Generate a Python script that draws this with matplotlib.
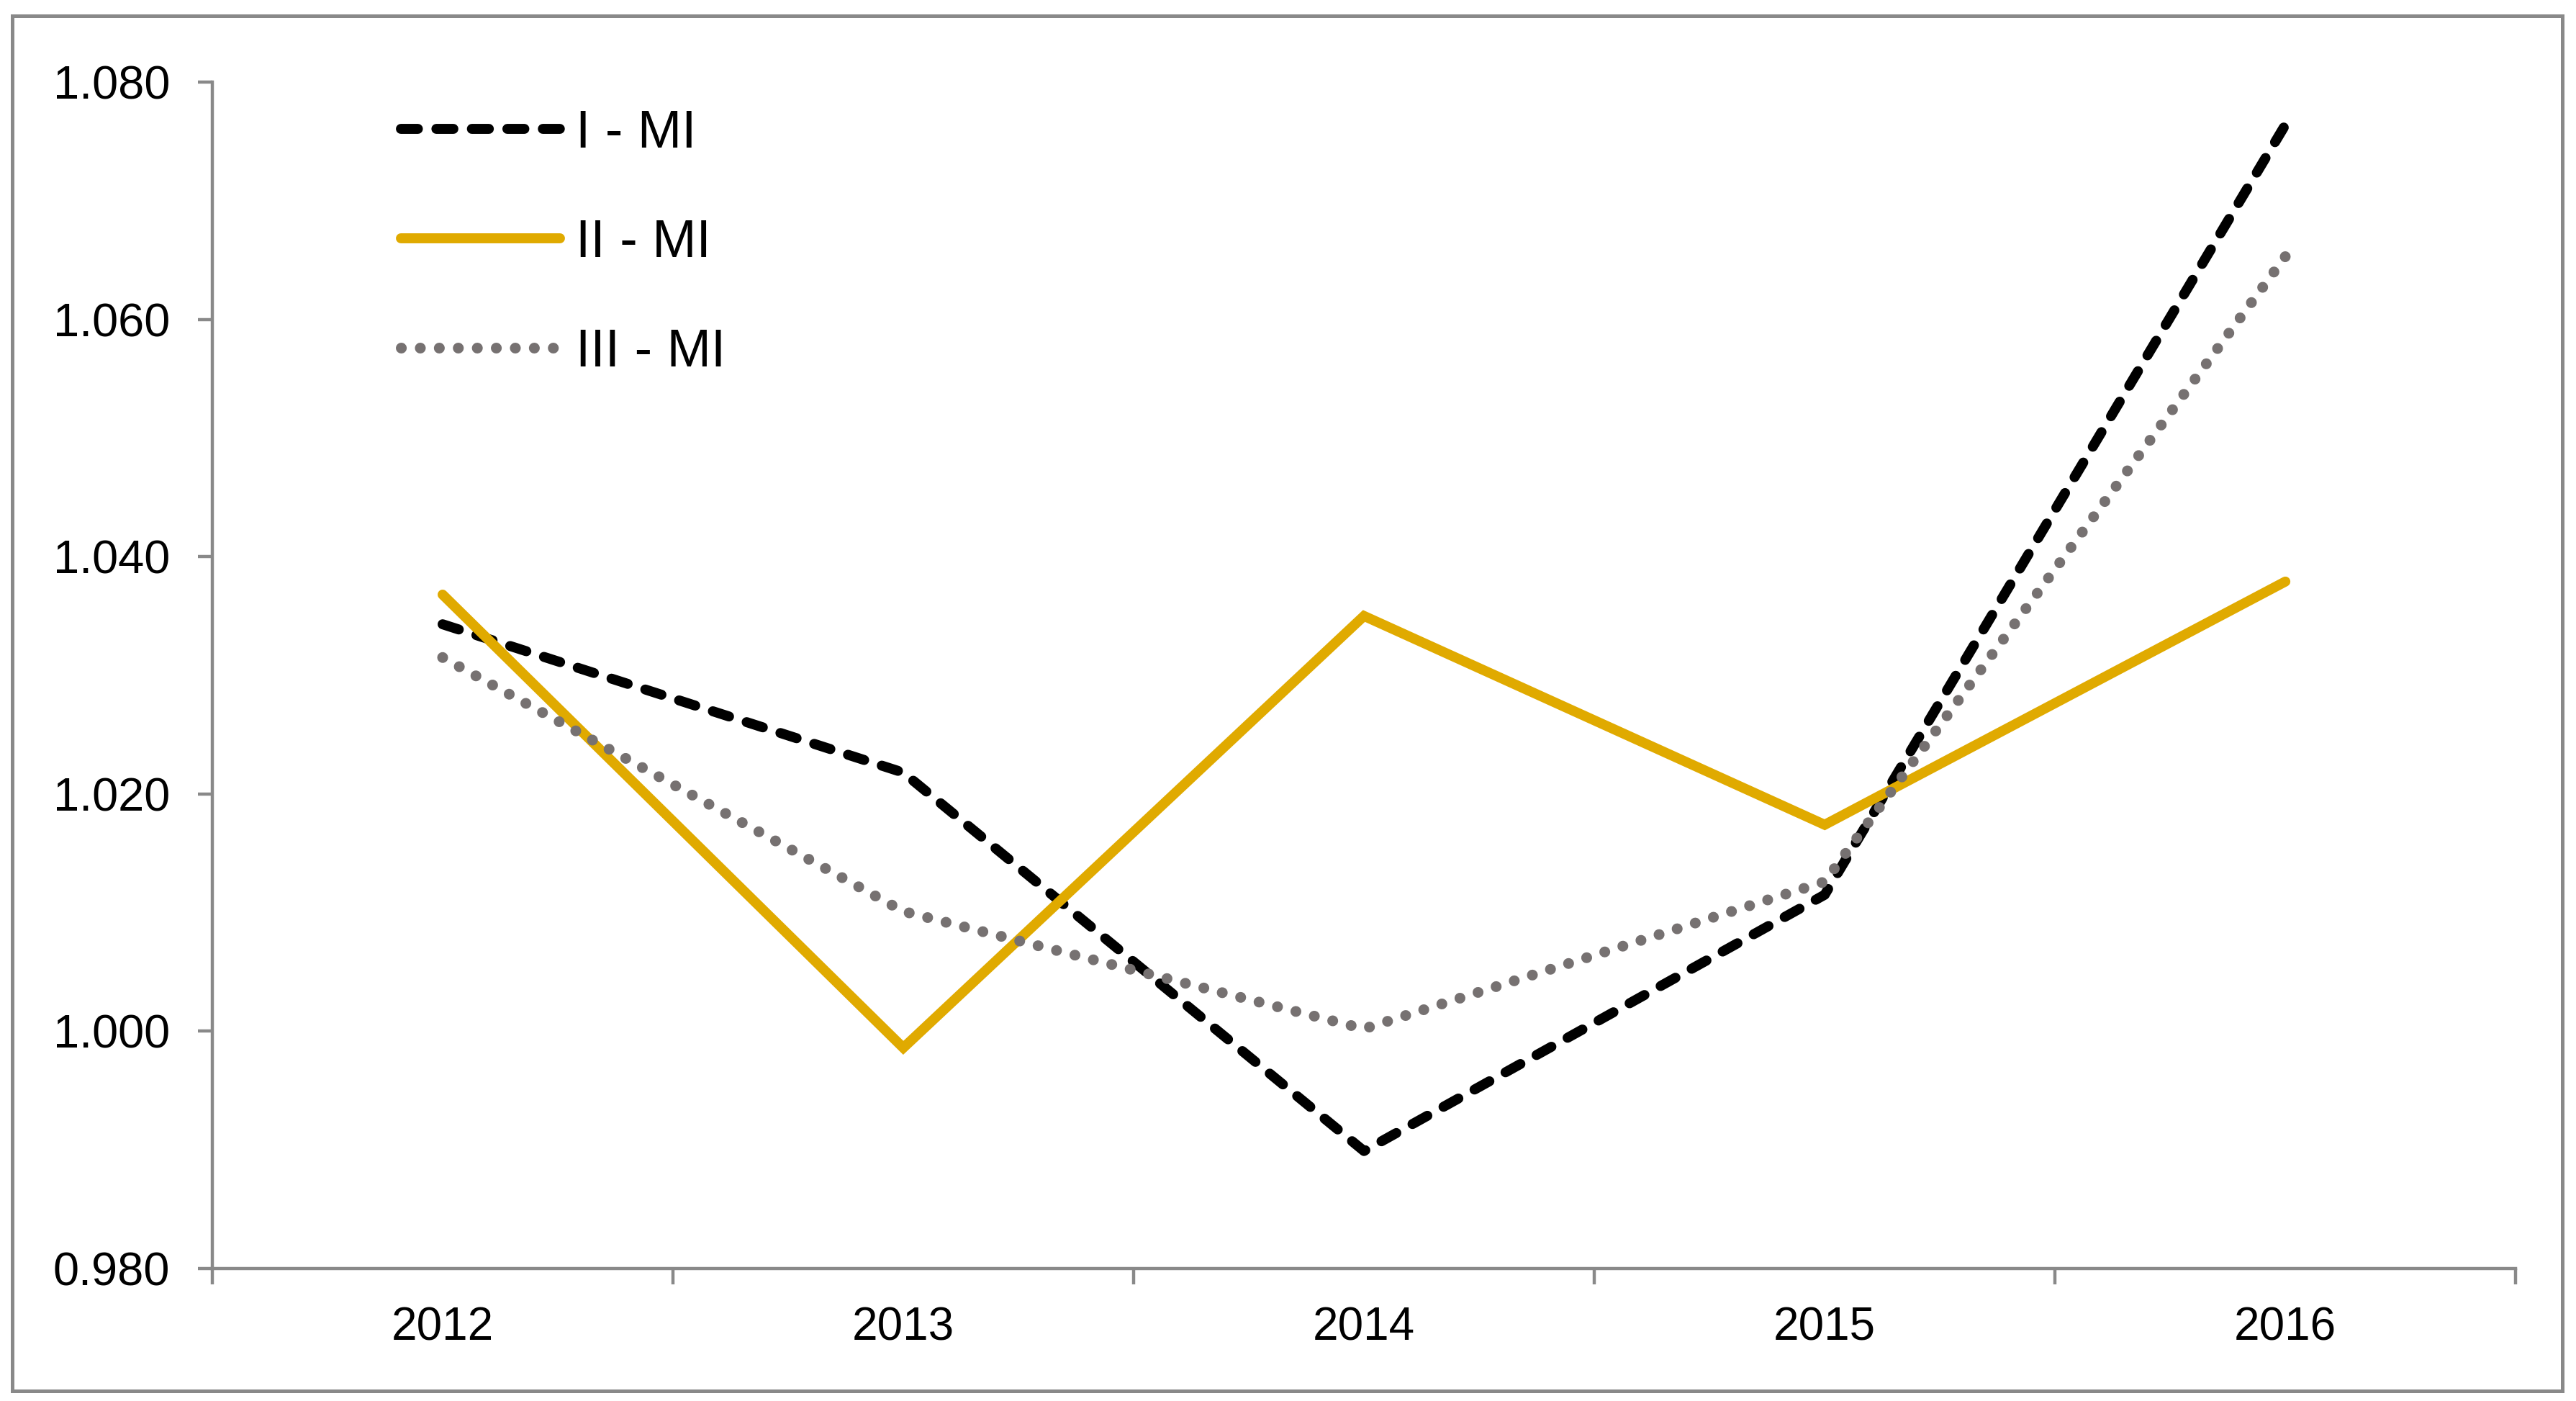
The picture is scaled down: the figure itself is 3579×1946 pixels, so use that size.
import matplotlib
matplotlib.use('Agg')
import matplotlib.pyplot as plt
from matplotlib.patches import Rectangle
from matplotlib.ticker import FixedLocator, FormatStrFormatter, NullFormatter

plt.rcParams['font.family'] = ['Liberation Sans', 'DejaVu Sans']

# data
years = ['2012', '2013', '2014', '2015', '2016']
i_mi = [1.0343, 1.0218, 0.9899, 1.0115, 1.0764]
ii_mi = [1.0368, 0.9986, 1.0350, 1.0174, 1.0379]
iii_mi = [1.0315, 1.0101, 1.0002, 1.0126, 1.0653]
y_ticks = [0.98, 1.00, 1.02, 1.04, 1.06, 1.08]

axis_grey = '#898989'
gold = '#E0AA00'
grey = '#767171'

fig = plt.figure(figsize=(17.895, 9.73), dpi=200)
ax = fig.add_axes([0.0824, 0.0946, 0.8942, 0.8468])

x = list(range(len(years)))

ax.plot(x, i_mi, color='black', lw=5.0, dashes=(1.7, 1.85),
        dash_capstyle='round', solid_joinstyle='miter', label='I - MI')
ax.plot(x, ii_mi, color=gold, lw=5.0, solid_capstyle='round',
        solid_joinstyle='miter', label='II - MI')
ax.plot(x, iii_mi, color=grey, lw=5.4, dashes=(0.01, 1.75),
        dash_capstyle='round', label='III - MI')

ax.set_xlim(-0.5, len(years) - 0.5)
ax.set_ylim(y_ticks[0], y_ticks[-1])

# category axis: ticks between categories, labels in the middle
ax.xaxis.set_major_locator(FixedLocator([i - 0.5 for i in range(len(years) + 1)]))
ax.xaxis.set_major_formatter(NullFormatter())
ax.xaxis.set_minor_locator(FixedLocator(x))
ax.set_xticklabels(years, minor=True)
ax.tick_params(axis='x', which='major', direction='out', length=8,
               width=1.6, color=axis_grey)
ax.tick_params(axis='x', which='minor', length=0, pad=19, labelsize=23)

ax.set_yticks(y_ticks)
ax.yaxis.set_major_formatter(FormatStrFormatter('%.3f'))
ax.tick_params(axis='y', direction='out', length=7.2, width=1.6,
               color=axis_grey, pad=14, labelsize=23.4)

for s in ['top', 'right']:
    ax.spines[s].set_visible(False)
for s in ['left', 'bottom']:
    ax.spines[s].set_color(axis_grey)
    ax.spines[s].set_linewidth(1.6)

leg = ax.legend(loc='upper left', bbox_to_anchor=(0.1556, 0.9225),
                bbox_transform=fig.transFigure, frameon=False,
                fontsize=26.5, handlelength=3.0, handletextpad=0.3,
                labelspacing=1.13, borderpad=0, borderaxespad=0)

# outer chart border
fig.patches.append(Rectangle((0.00475, 0.0072), 0.99, 0.9815,
                             transform=fig.transFigure, fill=False,
                             edgecolor=axis_grey, lw=1.8))

fig.savefig('out.png', dpi=200, facecolor='white')
